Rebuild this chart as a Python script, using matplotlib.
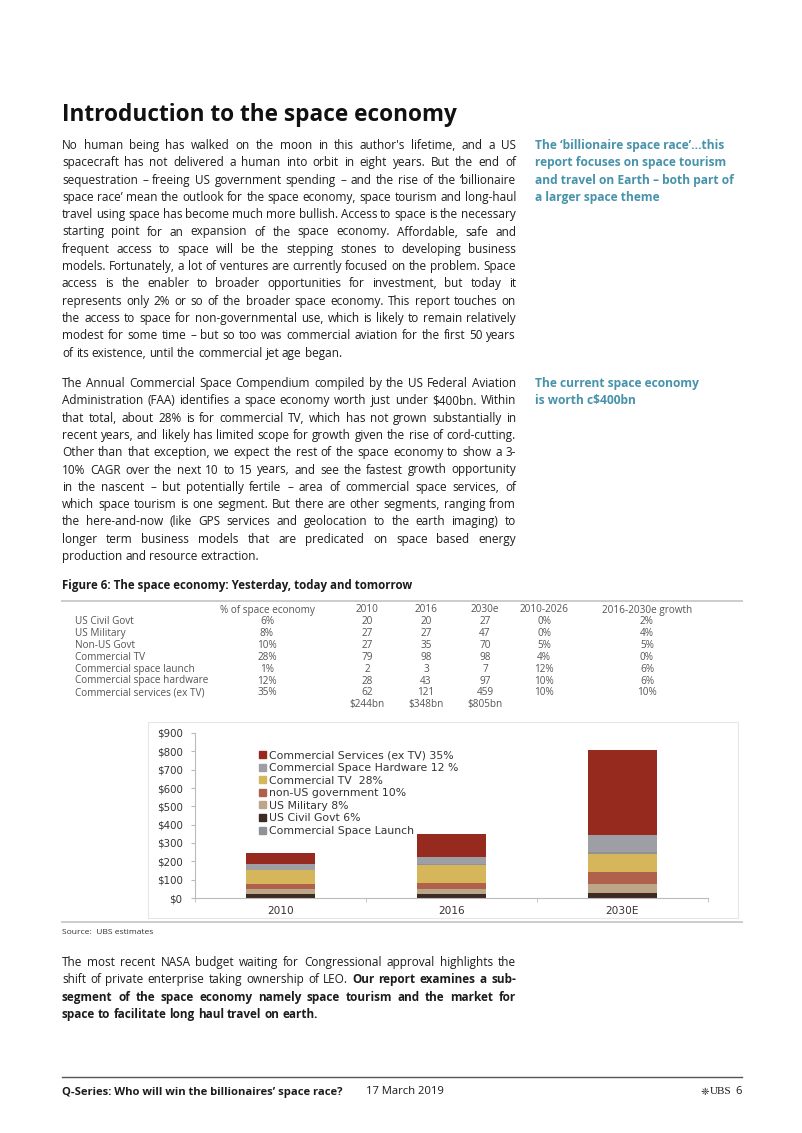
import matplotlib
matplotlib.use("Agg")
import matplotlib.pyplot as plt
from matplotlib.patches import Patch, Rectangle
from matplotlib.lines import Line2D
from matplotlib.ticker import FuncFormatter

### DATA ######################################################################

years = ["2010", "2016", "2030E"]
us_civil = [20, 20, 27]
us_military = [27, 27, 47]
non_us = [27, 35, 70]
comm_tv = [79, 98, 98]
comm_launch = [2, 3, 7]
comm_hardware = [28, 43, 97]
comm_services = [62, 121, 459]

table_header = ["% of space economy", "2010", "2016", "2030e", "2010-2026", "2016-2030e growth"]
table_rows = ["US Civil Govt", "US Military", "Non-US Govt", "Commercial TV",
              "Commercial space launch", "Commercial space hardware", "Commercial services (ex TV)"]
share = ["6%", "8%", "10%", "28%", "1%", "12%", "35%"]
growth_10_26 = ["0%", "0%", "5%", "4%", "12%", "10%", "10%"]
growth_16_30 = ["2%", "4%", "5%", "0%", "6%", "6%", "10%"]
totals = ["$244bn", "$348bn", "$805bn"]

legend_labels = ["Commercial Services (ex TV) 35%", "Commercial Space Hardware 12 %",
                 "Commercial TV  28%", "non-US government 10%", "US Military 8%",
                 "US Civil Govt 6%", "Commercial Space Launch"]

para1 = [
    "No human being has walked on the moon in this author's lifetime, and a US",
    "spacecraft has not delivered a human into orbit in eight years. But the end of",
    "sequestration \u2013 freeing US government spending \u2013 and the rise of the \u2018billionaire",
    "space race\u2019 mean the outlook for the space economy, space tourism and long-haul",
    "travel using space has become much more bullish. Access to space is the necessary",
    "starting point for an expansion of the space economy. Affordable, safe and",
    "frequent access to space will be the stepping stones to developing business",
    "models. Fortunately, a lot of ventures are currently focused on the problem. Space",
    "access is the enabler to broader opportunities for investment, but today it",
    "represents only 2% or so of the broader space economy.  This report touches on",
    "the access to space for non-governmental use, which is likely to remain relatively",
    "modest for some time \u2013 but so too was commercial aviation for the first 50 years",
    "of its existence, until the commercial jet age began.",
]
para2 = [
    "The Annual Commercial Space Compendium compiled by the US Federal Aviation",
    "Administration (FAA) identifies a space economy worth just under $400bn. Within",
    "that total, about 28% is for commercial TV, which has not grown substantially in",
    "recent years, and likely has limited scope for growth given the rise of cord-cutting.",
    "Other than that exception, we expect the rest of the space economy to show a 3-",
    "10% CAGR over the next 10 to 15 years, and see the fastest growth opportunity",
    "in the nascent \u2013 but potentially fertile \u2013 area of commercial space services, of",
    "which space tourism is one segment. But there are other segments, ranging from",
    "the here-and-now (like GPS services and geolocation to the earth imaging) to",
    "longer term business models that are predicated on space based energy",
    "production and resource extraction.",
]
side1 = ["The \u2018billionaire space race\u2019\u2026this", "report focuses on space tourism",
         "and travel on Earth \u2013 both part of", "a larger space theme"]
side2 = ["The current space economy", "is worth c$400bn"]
para3 = [
    [("The most recent NASA budget waiting for Congressional approval highlights the", "normal")],
    [("shift of private enterprise taking ownership of LEO.", "normal"), ("Our report examines a sub-", "bold")],
    [("segment of the space economy namely space tourism and the market for", "bold")],
    [("space to facilitate long haul travel on earth.", "bold")],
]

### FIGURE ####################################################################

W, H = 802, 1133
BODY = "Open Sans"
INK = "#1c1c1c"
TEAL = "#4793ab"

fig = plt.figure(figsize=(W / 100, H / 100), dpi=100)
fig.patch.set_facecolor("white")
renderer = fig.canvas.get_renderer()


def px(x, y):
    return x / W, 1 - y / H


def text_width(s, **kw):
    t = fig.text(0, 0, s, **kw)
    w = t.get_window_extent(renderer).width
    t.remove()
    return w


# sizes matched to the width of a few reference strings on the page
body_size = 10 * 280 / text_width(para1[-1], family=BODY, fontsize=10)
title = "Introduction to the space economy"
title_size = 10 * 396 / text_width(title, family=BODY, fontsize=10, fontweight="bold")


def put_line(y, parts, x0=62, x1=516, justify=True, size=None, color=INK):
    size = size or body_size
    words = []
    for txt, wt in parts:
        for w in txt.split():
            words.append((w, wt))
    objs = [fig.text(0, 0, w, family=BODY, fontsize=size, fontweight=wt,
                     color=color, va="baseline") for w, wt in words]
    widths = [o.get_window_extent(renderer).width for o in objs]
    if justify and len(objs) > 1:
        gap = (x1 - x0 - sum(widths)) / (len(objs) - 1)
    else:
        gap = text_width("a a", family=BODY, fontsize=size) - text_width("aa", family=BODY, fontsize=size)
    x = x0
    for o, w in zip(objs, widths):
        o.set_position(px(x, y))
        x += w + gap


fig.text(*px(62, 121), title, family=BODY, fontsize=title_size, fontweight="bold",
         color="#111111", va="baseline")

step = 17.3
for i, line in enumerate(para1):
    put_line(149 + i * step, [(line, "normal")], justify=i < len(para1) - 1)
for i, line in enumerate(para2):
    put_line(387 + i * step, [(line, "normal")], justify=i < len(para2) - 1)
for i, line in enumerate(side1):
    fig.text(*px(535, 149 + i * step), line, family=BODY, fontsize=body_size * 1.02,
             fontweight="bold", color=TEAL, va="baseline")
for i, line in enumerate(side2):
    fig.text(*px(535, 387 + i * step), line, family=BODY, fontsize=body_size * 1.02,
             fontweight="bold", color=TEAL, va="baseline")
for i, parts in enumerate(para3):
    put_line(966 + i * step, parts, justify=i < len(para3) - 1)

# figure caption and rules
fig.text(*px(62, 589), "Figure 6: The space economy: Yesterday, today and tomorrow",
         family=BODY, fontsize=body_size * 0.98, fontweight="bold", color=INK, va="baseline")
for yy in (601, 922):
    fig.add_artist(Line2D([62 / W, 742 / W], [1 - yy / H] * 2, color="#cccccc", lw=1.4))
fig.text(*px(62, 932), "Source:  UBS estimates", family=BODY, fontsize=body_size * 0.72,
         color="#333333", va="center")

# table
tcol = "#555555"
tsize = 7.2
col_x = [267, 367, 426, 485, 544, 647]
for x, h in zip(col_x, table_header):
    fig.text(*px(x, 610), h, family=BODY, fontsize=tsize, color=tcol, ha="center", va="center")
series_rows = [us_civil, us_military, non_us, comm_tv, comm_launch, comm_hardware, comm_services]
for i, name in enumerate(table_rows):
    y = 622 + i * 11.8
    series = series_rows[i]
    cells = [share[i], str(series[0]), str(series[1]), str(series[2]), growth_10_26[i], growth_16_30[i]]
    fig.text(*px(75, y), name, family=BODY, fontsize=tsize, color=tcol, va="center")
    for x, c in zip(col_x, cells):
        fig.text(*px(x, y), c, family=BODY, fontsize=tsize, color=tcol, ha="center", va="center")
for x, t in zip(col_x[1:4], totals):
    fig.text(*px(x, 705), t, family=BODY, fontsize=tsize, color=tcol, ha="center", va="center")

# chart frame
fig.add_artist(Rectangle((148 / W, 1 - 918 / H), 590 / W, 196 / H, transform=fig.transFigure,
                         fill=False, ec="#e6e6e6", lw=0.8))

ax = fig.add_axes([195 / W, 1 - 898 / H, 513 / W, 165 / H])
stack = [
    (us_civil, "#3c2b21", "US Civil Govt 6%"),
    (us_military, "#bca68a", "US Military 8%"),
    (non_us, "#b0614b", "non-US government 10%"),
    (comm_tv, "#d5b65b", "Commercial TV  28%"),
    (comm_launch, "#8f9196", "Commercial Space Launch"),
    (comm_hardware, "#9d9fa4", "Commercial Space Hardware 12 %"),
    (comm_services, "#962a1e", "Commercial Services (ex TV) 35%"),
]
xs = range(len(years))
bottom = [0] * len(years)
colors = {}
for vals, col, lab in stack:
    ax.bar(xs, vals, width=0.4, bottom=bottom, color=col, lw=0)
    bottom = [b + v for b, v in zip(bottom, vals)]
    colors[lab] = col

ax.set_xlim(-0.5, 2.5)
ax.set_ylim(0, 900)
ax.set_yticks(range(0, 901, 100))
ax.yaxis.set_major_formatter(FuncFormatter(lambda v, p: f"${v:.0f}"))
ax.set_xticks(list(xs))
ax.set_xticklabels(years)
ax.set_xticks([-0.5, 0.5, 1.5, 2.5], minor=True)
ax.tick_params(axis="x", which="major", length=0, pad=6, labelsize=7.6, labelcolor="#333333")
ax.tick_params(axis="x", which="minor", length=3, color="#bbbbbb")
ax.tick_params(axis="y", length=3, color="#bbbbbb", pad=6, labelsize=7.4, labelcolor="#333333")
for s in ("top", "right"):
    ax.spines[s].set_visible(False)
for s in ("left", "bottom"):
    ax.spines[s].set_color("#bbbbbb")
    ax.spines[s].set_linewidth(0.8)

handles = [Patch(color=colors[l], label=l) for l in legend_labels]
ax.legend(handles=handles, loc="upper left", bbox_to_anchor=(0.125, 0.895), frameon=False,
          fontsize=7.8, labelcolor="#333333", handlelength=0.6, handleheight=0.6,
          handletextpad=0.3, labelspacing=0.24, borderpad=0, borderaxespad=0)

# footer
fsize = body_size * 0.96
fig.add_artist(Line2D([62 / W, 742 / W], [1 - 1077 / H] * 2, color="#555555", lw=1.0))
fig.text(*px(62, 1092), "Q-Series: Who will win the billionaires\u2019 space race?", family=BODY,
         fontsize=fsize, fontweight="bold", color=INK, va="center")
fig.text(*px(366, 1092), "17 March 2019", family=BODY, fontsize=fsize, color=INK, va="center")
fig.text(*px(742, 1092), "6", family=BODY, fontsize=fsize, color=INK, ha="right", va="center")
fig.text(*px(731, 1092), "UBS", family="Liberation Serif", fontsize=fsize,
         color=INK, ha="right", va="center")
fig.text(*px(709, 1092), "\u2748", family="DejaVu Sans", fontsize=fsize * 0.9,
         color=INK, ha="right", va="center")

fig.savefig("out.png", dpi=100, facecolor="white")
